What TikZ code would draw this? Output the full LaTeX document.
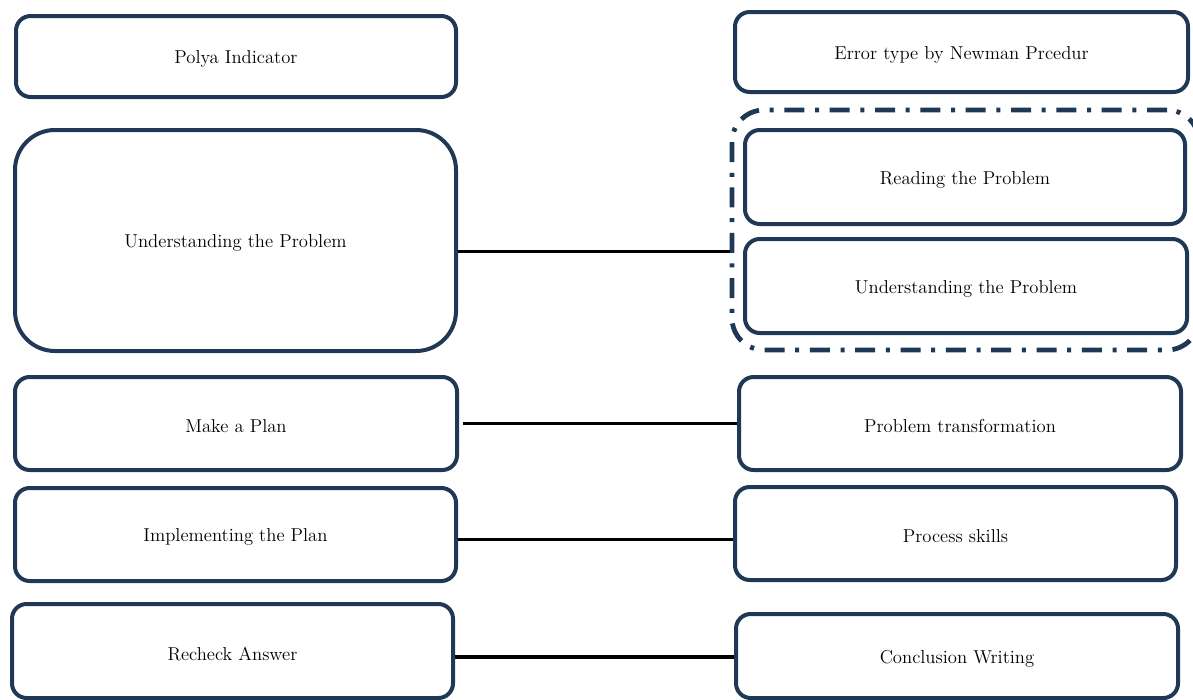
\documentclass[tikz,border=0pt]{standalone}
\usetikzlibrary{fit}
\definecolor{navy}{RGB}{31,56,86}
\tikzset{
  box/.style={draw=navy, line width=3pt, rounded corners=11pt, inner sep=0pt},
  lbl/.style={font=\fontsize{14}{16}\selectfont, text=black, yshift=-2pt},
  conn/.style={draw=black, line width=2.4pt},
  grpbox/.style={draw=navy, line width=3.6pt, rounded corners=24pt, inner sep=0pt, dash pattern=on 15pt off 8pt on 3pt off 8pt}
}
\begin{document}
\begin{tikzpicture}[x=0.75pt,y=-0.75pt]
\useasboundingbox (0,0) rectangle (1193,700);
\node[box, fit={(16,16)(456,97)}, label={[lbl]center:Polya Indicator}] (pol) {};
\node[box, fit={(735,12)(1188,92)}, label={[lbl]center:Error type by Newman Prcedur}] (err) {};
\node[box, rounded corners=30pt, fit={(15,130)(456,351)}, label={[lbl]center:Understanding the Problem}] (uL) {};
\node[box, fit={(745,130)(1185,224)}, label={[lbl]center:Reading the Problem}] (rd) {};
\node[box, fit={(745,239)(1187,333)}, label={[lbl]center:Understanding the Problem}] (uR) {};
\node[grpbox, fit={(732,110)(1199,350)}] (grp) {};
\node[box, fit={(15,377)(457,470)}, label={[lbl]center:Make a Plan}] (mp) {};
\node[box, fit={(739,377)(1181,470)}, label={[lbl]center:Problem transformation}] (pt) {};
\node[box, fit={(15,488)(456,581)}, label={[lbl]center:Implementing the Plan}] (ip) {};
\node[box, fit={(735,487)(1176,580)}, label={[lbl]center:Process skills}] (ps) {};
\node[box, fit={(12,604)(453,698)}, label={[lbl]center:Recheck Answer}] (ra) {};
\node[box, fit={(736,614)(1178,698)}, label={[lbl]center:Conclusion Writing}] (cw) {};
\draw[conn] ([yshift=-8.25pt]uL.east) -- ([yshift=-8.25pt]uL.east -| grp.west);
\draw[conn] ([xshift=3pt]mp.east) -- (mp.east -| pt.west);
\draw[conn] ([yshift=-4pt]ip.east) -- ([yshift=-4pt]ip.east -| ps.west);
\draw[conn] ([yshift=-4.5pt]ra.east) -- ([yshift=-4.5pt]ra.east -| cw.west);
\end{tikzpicture}
\end{document}
